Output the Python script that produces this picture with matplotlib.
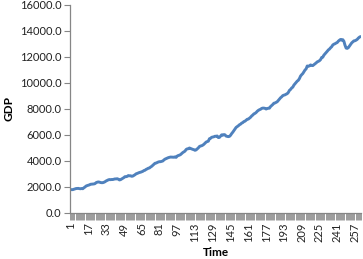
import matplotlib
matplotlib.use("Agg")
import matplotlib.pyplot as plt
from matplotlib.ticker import FixedLocator, FuncFormatter

# Quarterly GDP values (262 periods)
gdp = [
    1772, 1770, 1773, 1800,
    1825, 1858, 1868, 1870,
    1850, 1842, 1860, 1843,
    1915, 1975, 2050, 2085,
    2110, 2140, 2185, 2195,
    2205, 2212, 2235, 2310,
    2345, 2365, 2350, 2320,
    2308, 2310, 2338, 2380,
    2440, 2485, 2525, 2548,
    2540, 2552, 2550, 2578,
    2598, 2596, 2614, 2578,
    2520, 2540, 2595, 2655,
    2700, 2775, 2770, 2795,
    2855, 2838, 2840, 2800,
    2815, 2865, 2920, 2990,
    3020, 3060, 3093, 3112,
    3142, 3180, 3240, 3265,
    3330, 3370, 3420, 3440,
    3510, 3565, 3640, 3725,
    3800, 3818, 3860, 3900,
    3922, 3925, 3950, 3975,
    4055, 4120, 4160, 4195,
    4235, 4255, 4280, 4275,
    4262, 4265, 4295, 4255,
    4355, 4400, 4425, 4470,
    4550, 4625, 4680, 4735,
    4860, 4910, 4920, 4975,
    4940, 4910, 4870, 4845,
    4800, 4830, 4905, 4985,
    5090, 5130, 5150, 5195,
    5260, 5350, 5430, 5470,
    5500, 5690, 5720, 5800,
    5820, 5840, 5880, 5880,
    5900, 5780, 5790, 5885,
    5990, 5960, 6010, 5990,
    5890, 5870, 5850, 5870,
    5955, 6085, 6190, 6315,
    6445, 6560, 6620, 6685,
    6765, 6810, 6890, 6930,
    7010, 7040, 7110, 7185,
    7200, 7270, 7340, 7440,
    7510, 7600, 7640, 7705,
    7800, 7870, 7920, 7955,
    8020, 8045, 8045, 8025,
    7975, 8010, 8035, 8040,
    8165, 8240, 8320, 8420,
    8440, 8485, 8535, 8635,
    8725, 8840, 8910, 9005,
    9040, 9065, 9115, 9155,
    9250, 9410, 9480, 9595,
    9655, 9815, 9920, 10025,
    10120, 10185, 10320, 10510,
    10615, 10700, 10830, 10975,
    11060, 11285, 11270, 11290,
    11365, 11330, 11315, 11380,
    11450, 11520, 11600, 11640,
    11690, 11775, 11940, 11960,
    12120, 12215, 12305, 12415,
    12520, 12585, 12685, 12765,
    12900, 12960, 12995, 13050,
    13089, 13194, 13268, 13326,
    13267, 13310, 13187, 12884,
    12663, 12641, 12695, 12814,
    12938, 13059, 13140, 13216,
    13228, 13272, 13332, 13429,
    13502, 13548,
]
time = list(range(1, len(gdp) + 1))
x_labels = list(range(1, 258, 16))
y_ticks = [0, 2000, 4000, 6000, 8000, 10000, 12000, 14000, 16000]

plt.rcParams['font.family'] = ['Lato', 'DejaVu Sans']

fig = plt.figure(figsize=(3.63, 2.59), dpi=100)
ax = fig.add_axes([0.1928, 0.1788, 0.802, 0.8031])

ax.plot(time, gdp, color='#4F81BD', linewidth=2.1, solid_capstyle='round',
        solid_joinstyle='round')

ax.set_xlim(0.5, len(gdp) + 0.5)
ax.set_ylim(0, 16000)

ax.set_yticks(y_ticks)
ax.yaxis.set_major_formatter(FuncFormatter(lambda v, p: f"{v:.1f}"))
ax.tick_params(axis='y', direction='out', length=4, width=0.8, color='#868686',
               labelsize=8, labelcolor='#222222', pad=2)

ax.xaxis.set_major_locator(FixedLocator(x_labels))
ax.set_xticklabels([str(v) for v in x_labels], rotation=90)
ax.tick_params(axis='x', which='major', length=0, labelsize=8,
               labelcolor='#222222', pad=7)
ax.xaxis.set_minor_locator(FixedLocator([t + 0.5 for t in [0] + time]))
ax.tick_params(axis='x', which='minor', direction='out', length=5, width=0.6,
               color='#8c8c8c')

for s in ['top', 'right']:
    ax.spines[s].set_visible(False)
for s in ['left', 'bottom']:
    ax.spines[s].set_color('#868686')
    ax.spines[s].set_linewidth(0.9)

ax.set_xlabel('Time', fontsize=8.5, fontweight='bold', labelpad=4)
ax.set_ylabel('GDP', fontsize=8.5, fontweight='bold', labelpad=4)

fig.savefig('out.png', dpi=100)
